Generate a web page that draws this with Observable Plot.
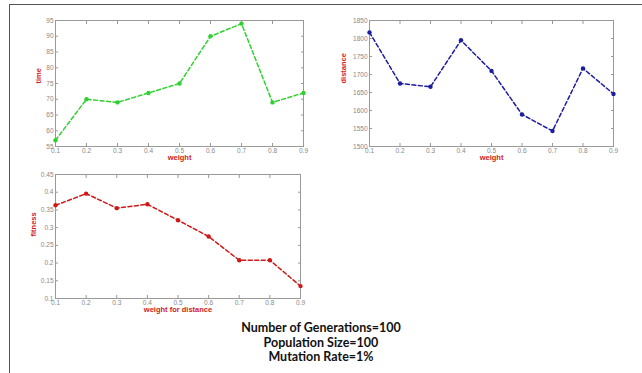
<!DOCTYPE html>
<html><head><meta charset="utf-8">
<script src="https://cdn.jsdelivr.net/npm/d3@7"></script>
<script src="https://cdn.jsdelivr.net/npm/@observablehq/plot@0.6"></script>
<style>
body{margin:0;background:#fff;width:642px;height:373px;position:relative;overflow:hidden;font-family:"Liberation Sans",Arial,sans-serif}
.frameTop{position:absolute;left:10px;top:4px;width:632px;height:0;border-top:1.5px solid #555}
.frameLeft{position:absolute;left:9px;top:4px;width:0;height:369px;border-left:1.5px solid #555}
.panel{position:absolute}
.caption{position:absolute;left:0;width:642px;top:320px;text-align:center;font-family:Lato,sans-serif;font-weight:bold;font-size:12.5px;color:#111}
.caption div{height:14.5px;line-height:15px}
</style></head><body>
<div class="frameTop"></div><div class="frameLeft"></div>
<div id="p1" class="panel" style="left:0;top:0"></div>
<div id="p2" class="panel" style="left:320px;top:0"></div>
<div id="p3" class="panel" style="left:0;top:160px"></div>
<div class="caption"><div>Number of Generations=100</div><div>Population Size=100</div><div>Mutation Rate=1%</div></div>
<script>
const weights = [0.1,0.2,0.3,0.4,0.5,0.6,0.7,0.8,0.9];
const timeValues = [57,70,69,72,75,90,94,69,72];
const distanceValues = [1817,1675,1666,1795,1710,1589,1543,1717,1646];
const fitnessValues = [0.363,0.396,0.355,0.366,0.321,0.275,0.208,0.208,0.135];
const timeTicks = [55,60,65,70,75,80,85,90,95];
const distanceTicks = [1500,1550,1600,1650,1700,1750,1800,1850];
const fitnessTicks = [0.1,0.15,0.2,0.25,0.3,0.35,0.4,0.45];

function panel(values, color, yDomain, yTicks, yLabel, xLabel, opts){
  const data = weights.map((w,i)=>({x:w, y:values[i]}));
  const fmt = v => String(+v.toFixed(2));
  return Plot.plot({
    width: opts.width, height: opts.height,
    marginLeft: opts.ml, marginRight: opts.mr, marginTop: opts.mt, marginBottom: opts.mb,
    style:{fontFamily:'"Liberation Sans",Arial,sans-serif', background:"transparent"},
    x:{domain:[0.1,0.9]},
    y:{domain:yDomain},
    marks:[
      Plot.frame({stroke:"#999", strokeWidth:1}),
      Plot.axisX(weights, {anchor:"bottom", tickSize:-3, tickPadding:4.5, stroke:"#999", fill:"#888", fontSize:6.5, tickFormat:fmt, label:null}),
      Plot.axisX(weights, {anchor:"top", tickSize:-3, stroke:"#999", tickFormat:()=>"", label:null}),
      Plot.axisY(yTicks, {anchor:"left", tickSize:-3, tickPadding:5, stroke:"#999", fill:"#888", fontSize:6.5, tickFormat:fmt, label:null}),
      Plot.axisY(yTicks, {anchor:"right", tickSize:-3, stroke:"#999", tickFormat:()=>"", label:null}),
      Plot.line(data, {x:"x", y:"y", stroke:color, strokeWidth:1.5, strokeDasharray:"4,2.5"}),
      Plot.dot(data, {x:"x", y:"y", r:2.2, fill:color, stroke:"none"}),
      Plot.text([yLabel], {frameAnchor:"left", dx:-opts.ylOff, rotate:-90, fill:"#d42020", fontWeight:"bold", fontSize:7.5}),
      Plot.text([xLabel], {frameAnchor:"bottom", dy:opts.xlOff, fill:"#d42020", fontWeight:"bold", fontSize:7.5})
    ]
  });
}

document.getElementById("p1").append(panel(timeValues, "#2fd12f", [55,95], timeTicks, "time", "weight",
  {width:320, height:165, ml:55, mr:17, mt:20, mb:19, ylOff:17, xlOff:13}));
document.getElementById("p2").append(panel(distanceValues, "#1c1ca0", [1500,1850], distanceTicks, "distance", "weight",
  {width:322, height:165, ml:49, mr:29, mt:20, mb:19, ylOff:26, xlOff:13}));
document.getElementById("p3").append(panel(fitnessValues, "#d01818", [0.1,0.45], fitnessTicks, "fitness", "weight for distance",
  {width:320, height:160, ml:55, mr:20, mt:14, mb:22, ylOff:22, xlOff:13}));
</script>
</body></html>
